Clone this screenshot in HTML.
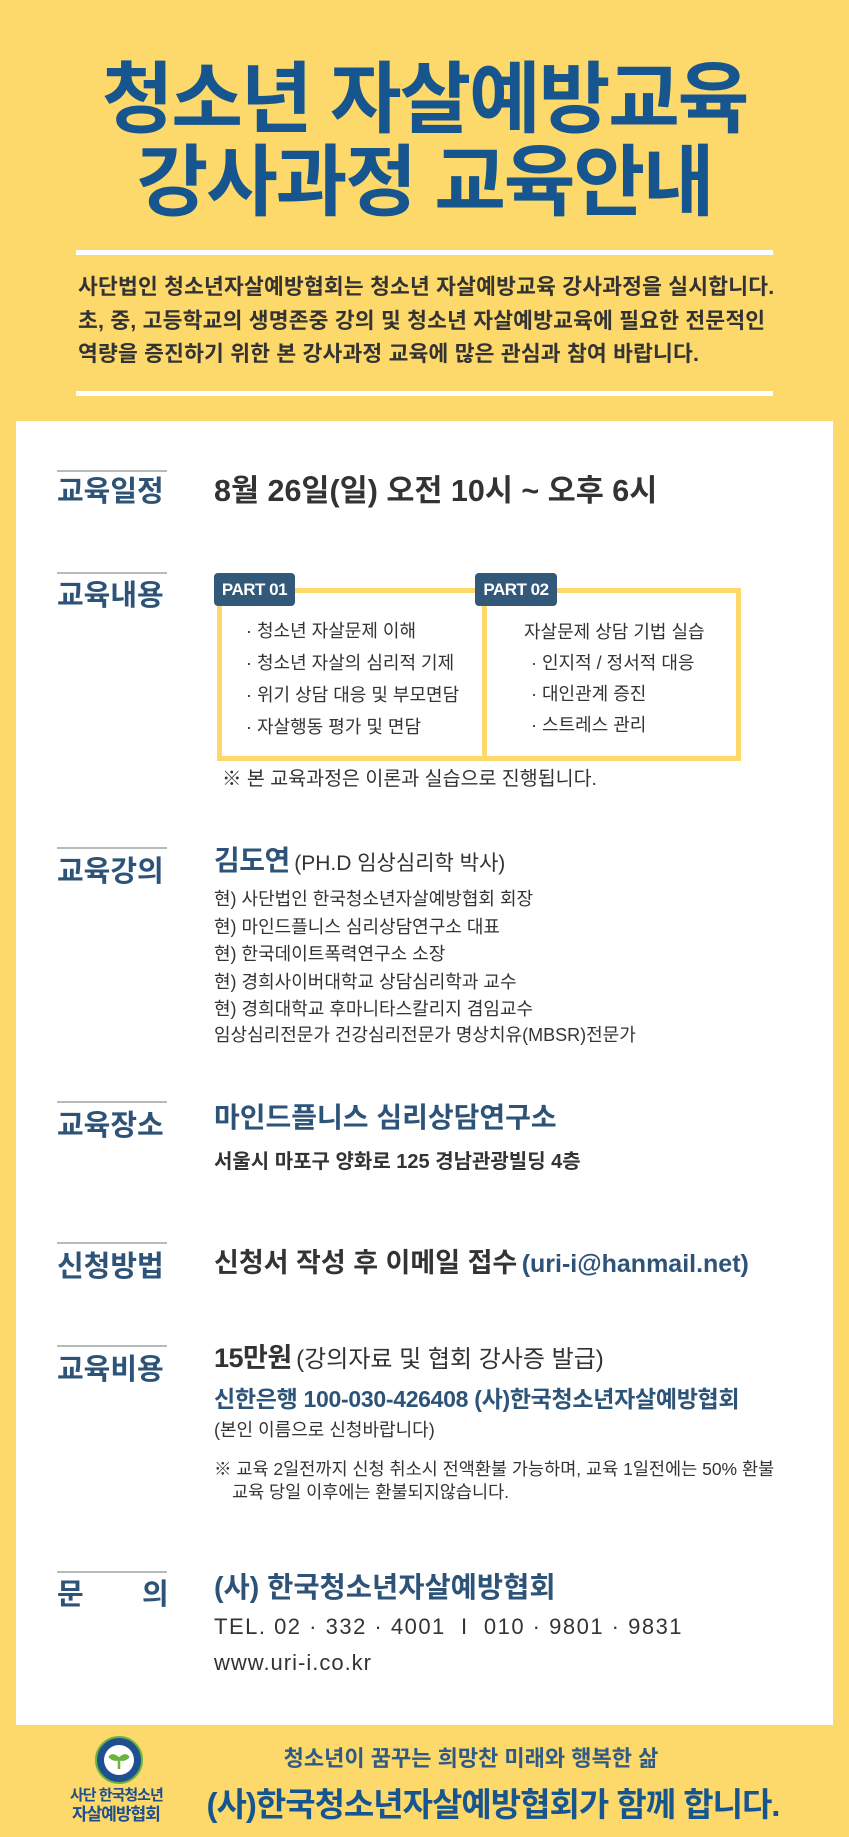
<!DOCTYPE html>
<html><head><meta charset="utf-8"><style>
*{margin:0;padding:0;box-sizing:border-box}
body{width:849px;height:1837px;position:relative;background:#fdd86b;font-family:"Liberation Sans","Noto Sans CJK KR",sans-serif;overflow:hidden}
.a{position:absolute;white-space:nowrap;line-height:1}
.t{color:#17558f;font-weight:700;font-size:78px;letter-spacing:-2.2px;left:0;width:849px;text-align:center}
.wl{position:absolute;left:76px;width:697px;height:5px;background:#fff}
.p{color:#333;font-weight:700;font-size:21.5px;left:78px;letter-spacing:0.2px}
.panel{position:absolute;left:16px;top:421px;width:817px;height:1304px;background:#fff}
.lab{color:#2d5478;font-weight:700;font-size:29px;left:57px;letter-spacing:0}
.ln{position:absolute;left:57px;width:110px;height:2px;background:#b5bbb8}
.d{color:#333;font-weight:700}
.b{color:#2d5478;font-weight:700}
.tag{position:absolute;height:33px;background:#33597a;color:#fff;font-weight:700;font-size:17px;line-height:33px;text-align:center;border-radius:4px;letter-spacing:-0.5px}
.it{font-size:18px;color:#333;letter-spacing:0}
.s{font-size:17.5px;color:#333;letter-spacing:0}
</style></head><body>
<div class="a t" style="top:60px">청소년 자살예방교육</div>
<div class="a t" style="top:143px">강사과정 교육안내</div>
<div class="wl" style="top:250px"></div>
<div class="a p" style="top:277px">사단법인 청소년자살예방협회는 청소년 자살예방교육 강사과정을 실시합니다.</div>
<div class="a p" style="top:311px">초, 중, 고등학교의 생명존중 강의 및 청소년 자살예방교육에 필요한 전문적인</div>
<div class="a p" style="top:344px">역량을 증진하기 위한 본 강사과정 교육에 많은 관심과 참여 바랍니다.</div>
<div class="wl" style="top:391px"></div>

<div class="panel"></div>

<div class="ln" style="top:470px"></div>
<div class="a lab" style="top:478px">교육일정</div>
<div class="a d" style="left:214px;top:476px;font-size:30.5px;letter-spacing:0">8월 26일(일) 오전 10시 ~ 오후 6시</div>

<div class="ln" style="top:572px"></div>
<div class="a lab" style="top:582px">교육내용</div>
<div style="position:absolute;left:217px;top:588px;width:270px;height:173px;border:5px solid #fdd86b"></div>
<div style="position:absolute;left:482px;top:588px;width:259px;height:173px;border:5px solid #fdd86b"></div>
<div class="tag" style="left:214px;top:573px;width:81px">PART 01</div>
<div class="tag" style="left:475px;top:573px;width:82px">PART 02</div>
<div class="a it" style="left:246px;top:622px">· 청소년 자살문제 이해</div>
<div class="a it" style="left:246px;top:654px">· 청소년 자살의 심리적 기제</div>
<div class="a it" style="left:246px;top:686px">· 위기 상담 대응 및 부모면담</div>
<div class="a it" style="left:246px;top:718px">· 자살행동 평가 및 면담</div>
<div class="a it" style="left:524px;top:623px">자살문제 상담 기법 실습</div>
<div class="a it" style="left:531px;top:654px">· 인지적 / 정서적 대응</div>
<div class="a it" style="left:531px;top:685px">· 대인관계 증진</div>
<div class="a it" style="left:531px;top:716px">· 스트레스 관리</div>
<div class="a" style="left:222px;top:770px;font-size:19.5px;color:#333">※ 본 교육과정은 이론과 실습으로 진행됩니다.</div>

<div class="ln" style="top:847px"></div>
<div class="a lab" style="top:858px">교육강의</div>
<div class="a" style="left:214px;top:847px"><span class="b" style="font-size:28px;letter-spacing:-0.5px">김도연</span> <span style="font-size:21px;color:#333">(PH.D 임상심리학 박사)</span></div>
<div class="a it" style="left:214px;top:890px">현) 사단법인 한국청소년자살예방협회 회장</div>
<div class="a it" style="left:214px;top:918px">현) 마인드플니스 심리상담연구소 대표</div>
<div class="a it" style="left:214px;top:945px">현) 한국데이트폭력연구소 소장</div>
<div class="a it" style="left:214px;top:973px">현) 경희사이버대학교 상담심리학과 교수</div>
<div class="a it" style="left:214px;top:1000px">현) 경희대학교 후마니타스칼리지 겸임교수</div>
<div class="a it" style="left:214px;top:1026px;letter-spacing:0">임상심리전문가 건강심리전문가 명상치유(MBSR)전문가</div>

<div class="ln" style="top:1101px"></div>
<div class="a lab" style="top:1112px">교육장소</div>
<div class="a b" style="left:214px;top:1104px;font-size:28px;letter-spacing:0">마인드플니스 심리상담연구소</div>
<div class="a d" style="left:214px;top:1152px;font-size:20px;letter-spacing:0">서울시 마포구 양화로 125 경남관광빌딩 4층</div>

<div class="ln" style="top:1242px"></div>
<div class="a lab" style="top:1253px">신청방법</div>
<div class="a" style="left:214px;top:1250px"><span class="d" style="font-size:27px">신청서 작성 후 이메일 접수</span> <span class="b" style="font-size:25px">(uri-i@hanmail.net)</span></div>

<div class="ln" style="top:1345px"></div>
<div class="a lab" style="top:1356px">교육비용</div>
<div class="a" style="left:214px;top:1345px"><span class="d" style="font-size:27px;letter-spacing:-0.5px">15만원</span> <span style="font-size:24px;color:#333">(강의자료 및 협회 강사증 발급)</span></div>
<div class="a b" style="left:214px;top:1388px;font-size:23px;letter-spacing:-0.3px">신한은행 100-030-426408 (사)한국청소년자살예방협회</div>
<div class="a s" style="left:214px;top:1421px;font-size:18px">(본인 이름으로 신청바랍니다)</div>
<div class="a s" style="left:214px;top:1461px">※ 교육 2일전까지 신청 취소시 전액환불 가능하며, 교육 1일전에는 50% 환불</div>
<div class="a s" style="left:232px;top:1484px">교육 당일 이후에는 환불되지않습니다.</div>

<div class="ln" style="top:1571px"></div>
<div class="a lab" style="top:1581px">문</div>
<div class="a lab" style="top:1581px;left:142px">의</div>
<div class="a b" style="left:214px;top:1574px;font-size:28.5px;letter-spacing:0">(사) 한국청소년자살예방협회</div>
<div class="a" style="left:214px;top:1616px;font-size:22px;color:#333;letter-spacing:1.5px">TEL. 02 · 332 · 4001 &nbsp;I&nbsp; 010 · 9801 · 9831</div>
<div class="a" style="left:214px;top:1652px;font-size:22px;color:#333;letter-spacing:1px">www.uri-i.co.kr</div>

<svg style="position:absolute;left:94px;top:1735px" width="50" height="50"><circle cx="25" cy="25" r="23" fill="#1f4f8f" stroke="#6bb33f" stroke-width="2"/><circle cx="25" cy="25" r="15" fill="#fff"/><path d="M25 34 V22 M25 24 q-6-6-9-2 q4 4 9 2 M25 24 q6-6 9-2 q-4 4-9 2" stroke="#6bb33f" stroke-width="2.5" fill="#6bb33f"/></svg>
<div class="a b" style="left:70px;top:1788px;font-size:15px;color:#1f4f8f;letter-spacing:-1px">사단 한국청소년</div>
<div class="a b" style="left:72px;top:1806px;font-size:17px;color:#1f4f8f;letter-spacing:-1px">자살예방협회</div>
<div class="a" style="left:178px;width:586px;text-align:center;top:1748px;font-size:22px;color:#2f5a86;font-weight:700">청소년이 꿈꾸는 희망찬 미래와 행복한 삶</div>
<div class="a" style="left:200px;width:586px;text-align:center;top:1788px;font-size:33px;color:#17558f;font-weight:700;letter-spacing:-1px">(사)한국청소년자살예방협회가 함께 합니다.</div>
</body></html>
